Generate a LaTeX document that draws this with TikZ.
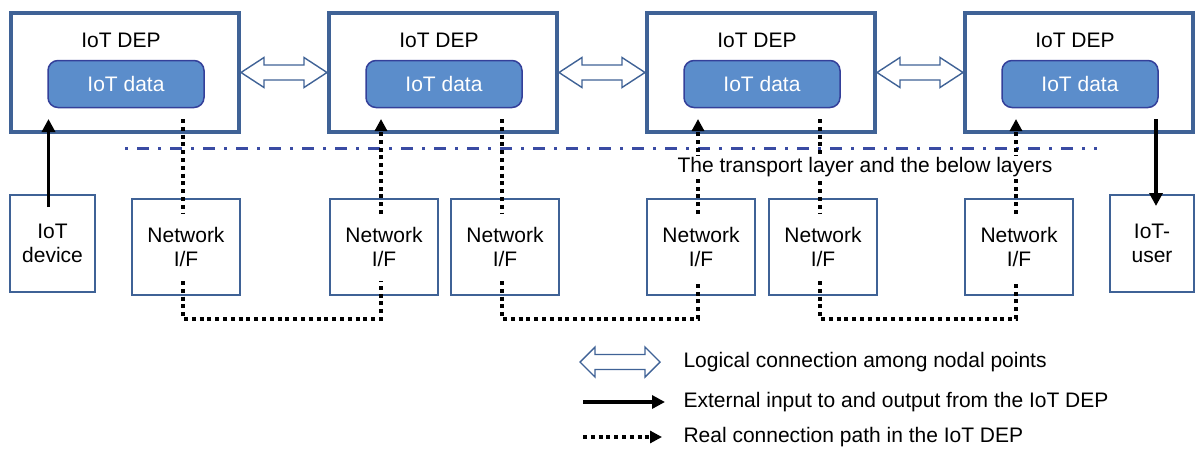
\documentclass[tikz,border=0pt]{standalone}
\usepackage{fontspec}
\setmainfont{Liberation Sans}
\usepackage{tikz}
\usetikzlibrary{arrows.meta, positioning, calc}
\definecolor{DepBlue}{HTML}{3F6296}
\definecolor{DataFill}{HTML}{5B8DCB}
\definecolor{DataLine}{HTML}{34409A}
\definecolor{LayerBlue}{HTML}{3A4BA3}

% hollow double arrow between two tips on one line, #3 = head length
\newcommand{\logiclink}[3]{%
  \draw[logic] (#1) -- ($(#1)+(#3,-15)$) -- ($(#1)+(#3,-7.5)$) -- ($(#2)+(-#3,-7.5)$)
    -- ($(#2)+(-#3,-15)$) -- (#2) -- ($(#2)+(-#3,15)$) -- ($(#2)+(-#3,7.5)$)
    -- ($(#1)+(#3,7.5)$) -- ($(#1)+(#3,15)$) -- cycle;}

\begin{document}
\begin{tikzpicture}[x=1pt, y=-1pt,
    every node/.style={font=\fontsize{21}{24}\selectfont},
    dep/.style={draw=DepBlue, line width=4pt, minimum width=228pt, minimum height=119pt},
    data/.style={draw=DataLine, fill=DataFill, line width=1.5pt, rounded corners=10pt,
      minimum width=156pt, minimum height=47pt, text=white},
    iface/.style={draw=DepBlue, line width=2pt, minimum width=108pt, minimum height=96pt,
      align=center},
    logic/.style={draw=DepBlue, fill=white, line width=1.4pt},
    extio/.style={line width=3.8pt, -{Triangle[length=13pt,width=13pt]}},
    realpath/.style={line width=4pt, dash pattern=on 4pt off 3.8pt},
    layer/.style={draw=LayerBlue, line width=3pt, dash pattern=on 3pt off 9pt on 12pt off 9pt}
  ]
    \useasboundingbox (0,0) rectangle (1195,453);

    % nodal points
    \foreach \i/\x in {1/125,2/443,3/761,4/1079}{
      \node[dep] (dep\i) at (\x,72.5) {};
      \node (title\i) at (\x-4,40) {IoT DEP};
      \node[data] (data\i) at (\x+1,84) {IoT data};
    }

    % lower layers
    \foreach \i/\x in {1/186,2/384,3/505,4/701,5/823,6/1019}
      \node[iface] (net\i) at (\x,247) {Network\\I/F};
    \node[iface, minimum width=85pt, minimum height=97pt] (dev) at (52.5,243.5) {IoT\\device};
    \node[iface, minimum width=84pt, minimum height=97pt] (user) at (1152,243.5) {IoT-\\user};

    \coordinate (layL) at (125,148);
    \coordinate (layR) at (1097,148);
    \draw[layer] (layL) -- (layR);

    % logical connections
    \foreach \a/\b in {1/2,2/3,3/4}
      \logiclink{dep\a.east}{dep\b.west}{23};

    % external input and output
    \draw[extio] ($(dev.north)+(-4,13)$) -- ($(dev.north |- dep1.south)+(-4,-15)$);
    \draw[extio] ($(user.north |- dep4.south)+(4,-15)$) -- ($(user.north)+(4,12)$);

    % real connection paths
    \foreach \d/\m/\n/\e in {1/1/2/2, 2/3/4/3, 3/5/6/4}{
      \draw[realpath] ($(net\m.north |- dep\d.south)+(-3,-15)$) -- ($(net\m.north)+(-3,16)$);
      \draw[realpath] ($(net\m.south)+(-3,-15)$) |- ($(net\n.south)+(-3,23)$) -- ($(net\n.south)+(-3,-15)$);
      \draw[realpath, -{Triangle[length=12pt,width=12pt]}] ($(net\n.north)+(-3,16)$)
        -- ($(net\n.north |- dep\e.south)+(-3,-15)$);
    }

    \node[fill=white, inner sep=1pt] (layertext) at (865,167) {The transport layer and the below layers};

    % legend
    \node[anchor=west] (key1) at (680,362) {Logical connection among nodal points};
    \node[anchor=west] (key2) at (680,402) {External input to and output from the IoT DEP};
    \node[anchor=west] (key3) at (680,437) {Real connection path in the IoT DEP};
    \coordinate (sym1) at (580,362);
    \coordinate (sym1e) at ($(key1.west)+(-20,0)$);
    \logiclink{sym1}{sym1e}{15}
    \coordinate (sym2) at (583,402);
    \draw[extio] (sym2) -- ($(key2.west)+(-15,0)$);
    \coordinate (sym3) at (583,437);
    \draw[realpath, -{Triangle[length=12pt,width=12pt]}] (sym3) -- ($(key3.west)+(-18,0)$);
\end{tikzpicture}
\end{document}
